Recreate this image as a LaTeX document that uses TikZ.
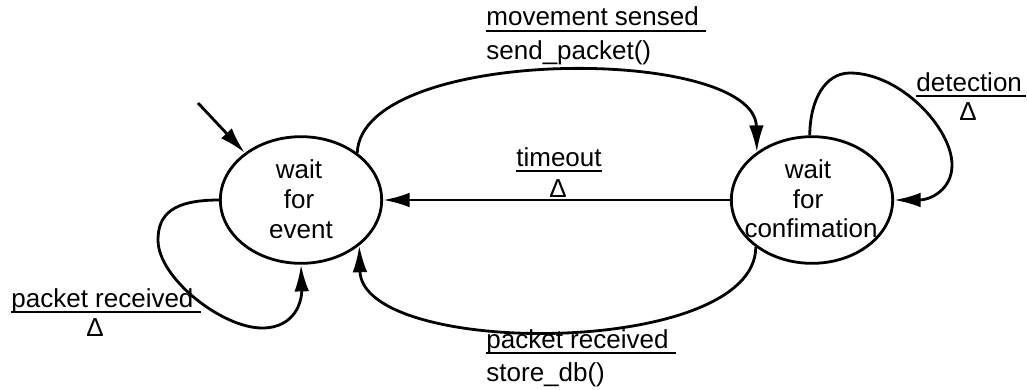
\documentclass[tikz,border=0pt]{standalone}
\usepackage{fontspec}
\setmainfont{Liberation Sans}
\usetikzlibrary{arrows.meta,shapes.geometric}
\newcommand\myul[1]{\setbox0\hbox{#1}\rlap{\rule[-4.6pt]{\wd0}{1.5pt}}\box0}
\begin{document}
\begin{tikzpicture}[x=0.75pt,y=-0.75pt, line width=2.1pt,
  state/.style={draw, ellipse, inner sep=0pt, minimum width=121pt, minimum height=95pt},
  txt/.style={inner sep=0pt, font=\fontsize{19.5}{22.5}\selectfont},
  arr/.style={-{Latex[length=20pt,width=11pt]}}]
\useasboundingbox (0,0) rectangle (1027,389);
% states
\node[state] (e1) at (301,200) {};
\node[state] (e2) at (812,200) {};
\node[txt, anchor=base] (e1a) at (299,178) {wait};
\node[txt, anchor=base] (e1b) at (299,208) {for};
\node[txt, anchor=base] (e1c) at (301,238) {event};
\node[txt, anchor=base] (e2a) at (808,178) {wait};
\node[txt, anchor=base] (e2b) at (808,208) {for};
\node[txt, anchor=base] (e2c) at (811,237) {confimation};
% initial arrow
\coordinate (init) at (198,103);
\draw[arr] (init) -- (e1.140);
% timeout
\draw[arr] (e2.west) -- (e1.east);
\node[txt, anchor=base] (to1) at (559,166) {\myul{timeout}};
\node[txt, anchor=base] (to2) at (558,197) {Δ};
% top arc
\draw[arr] (e1.40) .. controls (362,45) and (755,45) .. (e2.139);
\node[txt, anchor=base west] (m1) at (485,26) {\myul{movement sensed\ }};
\node[txt, anchor=base west] (m2) at (485,59) {send\_packet()};
% bottom arc
\draw[arr] (e2.220) .. controls (755,358) and (362,358) .. (e1.-38);
\node[txt, anchor=base west] (p1) at (485,348) {\myul{packet received\ }};
\node[txt, anchor=base west] (p2) at (485,381) {store\_db()};
% left self loop
\draw[arr] (e1.west) .. controls (172,200) and (158,215) .. (158,240)
  .. controls (158,278) and (222,328) .. (262,328)
  .. controls (296,328) and (302,300) .. (e1.south);
\node[txt, anchor=base west] (l1) at (10,307) {\myul{packet received\ }};
\node[txt, anchor=base] (l2) at (95,336) {Δ};
% right self loop
\draw[arr] (e2.92) .. controls (810,100) and (825,73) .. (850,73)
  .. controls (900,73) and (952,128) .. (952,165)
  .. controls (952,190) and (930,200) .. (e2.east);
\node[txt, anchor=base west] (d1) at (915,91) {\myul{detection\hspace{3pt}}};
\node[txt, anchor=base] (d2) at (968,120) {Δ};
\end{tikzpicture}
\end{document}
